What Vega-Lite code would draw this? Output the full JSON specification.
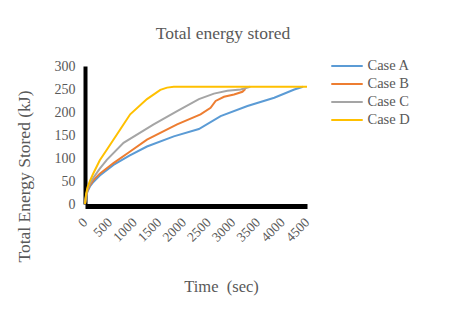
{
  "$schema": "https://vega.github.io/schema/vega-lite/v6.json",
  "width": 222,
  "height": 138,
  "autosize": {"type": "none"},
  "padding": {"left": 85, "top": 66, "right": 142, "bottom": 106},
  "background": "white",
  "config": {"view": {"stroke": null}},
  "title": {"text": "Total energy stored", "font": "Liberation Serif", "fontSize": 17.5, "fontWeight": "normal", "color": "#595959", "anchor": "middle", "dx": 27, "offset": 14},
  "data": {"values": [
    {"case": "Case A", "t": 0, "e": 0}, {"case": "Case A", "t": 20, "e": 15}, {"case": "Case A", "t": 50, "e": 27}, {"case": "Case A", "t": 100, "e": 38}, {"case": "Case A", "t": 170, "e": 48}, {"case": "Case A", "t": 300, "e": 62}, {"case": "Case A", "t": 577, "e": 85}, {"case": "Case A", "t": 900, "e": 105}, {"case": "Case A", "t": 1256, "e": 125}, {"case": "Case A", "t": 1800, "e": 147}, {"case": "Case A", "t": 2308, "e": 163}, {"case": "Case A", "t": 2749, "e": 191}, {"case": "Case A", "t": 3293, "e": 213}, {"case": "Case A", "t": 3836, "e": 231}, {"case": "Case A", "t": 4243, "e": 249}, {"case": "Case A", "t": 4420, "e": 255},
    {"case": "Case B", "t": 0, "e": 0}, {"case": "Case B", "t": 20, "e": 16}, {"case": "Case B", "t": 50, "e": 29}, {"case": "Case B", "t": 100, "e": 41}, {"case": "Case B", "t": 170, "e": 52}, {"case": "Case B", "t": 300, "e": 66}, {"case": "Case B", "t": 577, "e": 89}, {"case": "Case B", "t": 900, "e": 113}, {"case": "Case B", "t": 1256, "e": 140}, {"case": "Case B", "t": 1867, "e": 173}, {"case": "Case B", "t": 2342, "e": 195}, {"case": "Case B", "t": 2546, "e": 209}, {"case": "Case B", "t": 2648, "e": 224}, {"case": "Case B", "t": 2818, "e": 233}, {"case": "Case B", "t": 3021, "e": 238}, {"case": "Case B", "t": 3191, "e": 244}, {"case": "Case B", "t": 3250, "e": 250},
    {"case": "Case C", "t": 0, "e": 0}, {"case": "Case C", "t": 20, "e": 18}, {"case": "Case C", "t": 50, "e": 32}, {"case": "Case C", "t": 100, "e": 45}, {"case": "Case C", "t": 170, "e": 57}, {"case": "Case C", "t": 300, "e": 77}, {"case": "Case C", "t": 442, "e": 96}, {"case": "Case C", "t": 781, "e": 133}, {"case": "Case C", "t": 1392, "e": 173}, {"case": "Case C", "t": 1867, "e": 202}, {"case": "Case C", "t": 2309, "e": 228}, {"case": "Case C", "t": 2614, "e": 240}, {"case": "Case C", "t": 2886, "e": 246}, {"case": "Case C", "t": 3157, "e": 249}, {"case": "Case C", "t": 3350, "e": 255},
    {"case": "Case D", "t": 0, "e": 0}, {"case": "Case D", "t": 20, "e": 20}, {"case": "Case D", "t": 50, "e": 36}, {"case": "Case D", "t": 100, "e": 50}, {"case": "Case D", "t": 170, "e": 67}, {"case": "Case D", "t": 300, "e": 95}, {"case": "Case D", "t": 442, "e": 118}, {"case": "Case D", "t": 713, "e": 162}, {"case": "Case D", "t": 916, "e": 195}, {"case": "Case D", "t": 1256, "e": 228}, {"case": "Case D", "t": 1527, "e": 248}, {"case": "Case D", "t": 1663, "e": 253}, {"case": "Case D", "t": 1800, "e": 255}, {"case": "Case D", "t": 4500, "e": 255}
  ]},
  "mark": {"type": "line", "strokeWidth": 2, "clip": false},
  "encoding": {
    "x": {"field": "t", "type": "quantitative",
      "scale": {"domain": [0, 4500], "nice": false},
      "axis": {"values": [0, 500, 1000, 1500, 2000, 2500, 3000, 3500, 4000, 4500], "format": "d", "labelOverlap": false, "labelBound": false, "labelFlush": false,
        "title": "Time\u00a0 (sec)", "grid": false, "ticks": false,
        "domainColor": "black", "domainWidth": 5, "domainCap": "butt", "offset": 2,
        "labelAngle": -45, "labelAlign": "right", "labelBaseline": "middle", "labelPadding": 14,
        "labelFont": "Liberation Serif", "labelFontSize": 13.5, "labelColor": "#595959",
        "titleFont": "Liberation Serif", "titleFontSize": 16.5, "titleFontWeight": "normal", "titleColor": "#595959",
        "titleX": 136, "titleY": 85, "titleBaseline": "alphabetic", "titleAlign": "center"}},
    "y": {"field": "e", "type": "quantitative",
      "scale": {"domain": [0, 300], "nice": false},
      "axis": {"values": [0, 50, 100, 150, 200, 250, 300], "format": "d", "labelOverlap": false, "labelFlush": false, "title": "Total Energy Stored (kJ)", "grid": false, "ticks": false,
        "domainColor": "black", "domainWidth": 4, "domainCap": "butt",
        "labelPadding": 10, "labelFont": "Liberation Serif", "labelFontSize": 14, "labelColor": "#595959",
        "titleFont": "Liberation Serif", "titleFontSize": 17.5, "titleFontWeight": "normal", "titleColor": "#595959",
        "titleX": -52, "titleY": 110, "titleBaseline": "bottom", "titleAlign": "center", "titleAngle": -90}},
    "color": {"field": "case", "type": "nominal",
      "scale": {"domain": ["Case A", "Case B", "Case C", "Case D"], "range": ["#5B9BD5", "#ED7D31", "#A5A5A5", "#FFC000"]},
      "legend": {"orient": "none", "legendX": 252.5, "legendY": -9.5, "title": null,
        "symbolType": "M-1.85,0H1.85", "symbolSize": 289, "symbolStrokeWidth": 2, "symbolFillColor": null,
        "labelOffset": 11, "rowPadding": 2, "padding": 0,
        "labelFont": "Liberation Serif", "labelFontSize": 14.5, "labelColor": "#595959"}}
  }
}
